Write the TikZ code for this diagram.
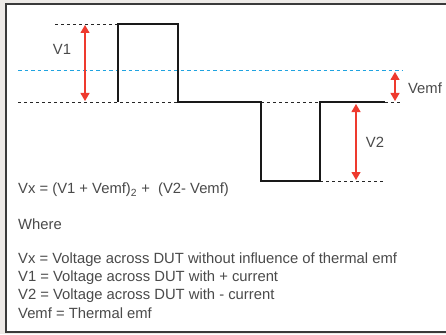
\documentclass[tikz,border=0pt]{standalone}
\usepackage{fontspec}
\setmainfont{Liberation Sans}
\usetikzlibrary{arrows.meta}

\definecolor{bggray}{HTML}{EDEAE7}
\definecolor{framegray}{HTML}{3A3A3A}
\definecolor{emfblue}{HTML}{1FA3E0}
\definecolor{arrowred}{HTML}{EE3A2E}
\definecolor{textgray}{HTML}{4A4A4A}

\tikzset{
  wave/.style={line width=2.2pt, black!90, line join=miter},
  level/.style={dash pattern=on 3pt off 3pt, line width=0.9pt, black!85},
  emfline/.style={dash pattern=on 3.5pt off 3pt, line width=1pt, emfblue},
  span/.style={{Triangle[length=8pt,width=9pt]}-{Triangle[length=8pt,width=9pt]}, line width=1.1pt, arrowred},
  lbl/.style={text=textgray, font=\fontsize{14.8}{17}\selectfont, inner sep=0pt},
  txt/.style={lbl, anchor=west}
}

\begin{document}
\begin{tikzpicture}[x=1pt,y=-1pt]
\useasboundingbox (0,0) rectangle (446,334);
% frame
\fill[bggray] (0,0) rectangle (446,334);
\fill[white] (6,4) rectangle (450,332);
\draw[framegray, line width=1.6pt] (6,4) rectangle (452,332);

% corners of the wave
\coordinate (start) at (118,102);
\coordinate (p1top) at (118,24);
\coordinate (p1end) at (178,24);
\coordinate (p1down) at (178,102);
\coordinate (p2start) at (261,102);
\coordinate (p2low) at (261,181);
\coordinate (p2end) at (320,181);
\coordinate (p2up) at (320,102);
\coordinate (stop) at (385,102);

% dashed levels
\coordinate (topleft) at (55,24);
\coordinate (baseleft) at (18,102);
\coordinate (baseright) at (403,102);
\coordinate (lowright) at (385,181);
\coordinate (emfleft) at (18,71);
\coordinate (emfright) at (403,71);
\draw[level] (topleft) -- (p1top);
\draw[level] (baseleft) -- (p1down);
\draw[level] (p2start) -- (p2up);
\draw[level] (stop) -- (baseright);
\draw[level] (p2end) -- (lowright);
\draw[emfline] (emfleft) -- (emfright);

% the wave
\draw[wave] (start) -- (p1top) -- (p1end) -- (p1down) -- (p2start) -- (p2low)
  -- (p2end) -- (p2up) -- (stop);

% arrows
\coordinate (v1a) at (85,25);
\coordinate (v1b) at (85,101);
\coordinate (emfa) at (395,72);
\coordinate (emfb) at (395,101);
\coordinate (v2a) at (356,104);
\coordinate (v2b) at (356,180);
\draw[span] (v1a) -- (v1b);
\draw[span] (emfa) -- (emfb);
\draw[span] (v2a) -- (v2b);
\node[lbl] (v1) at (62,49) {V1};
\node[lbl] (vemf) at (425,88) {Vemf};
\node[lbl] (v2) at (375,142) {V2};

% text
\node[txt] (formula) at (18,190) {Vx = (V1 + Vemf)\textsubscript{2} + \ (V2- Vemf)};
\node[txt] (where) at (18,224) {Where};
\node[txt] (defx) at (18,260) {Vx = Voltage across DUT without influence of thermal emf};
\node[txt] (def1) at (18,278) {V1 = Voltage across DUT with + current};
\node[txt] (def2) at (18,296) {V2 = Voltage across DUT with - current};
\node[txt] (defemf) at (18,313) {Vemf = Thermal emf};
\end{tikzpicture}
\end{document}
